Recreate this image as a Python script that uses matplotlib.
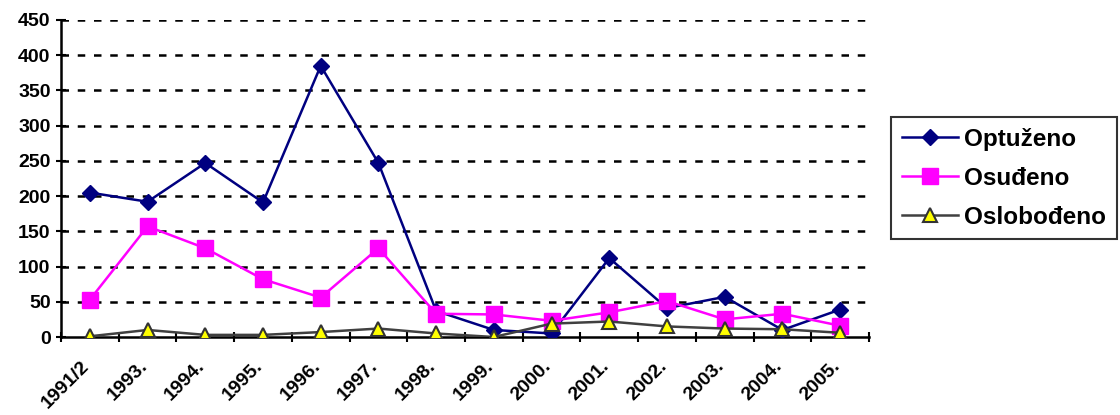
import matplotlib
matplotlib.use('Agg')
import matplotlib.pyplot as plt
import matplotlib.transforms as mtransforms
import numpy as np

years = ['1991/2', '1993.', '1994.', '1995.', '1996.', '1997.', '1998.',
         '1999.', '2000.', '2001.', '2002.', '2003.', '2004.', '2005.']
optuzeno = [205, 192, 247, 191, 385, 247, 37, 10, 5, 112, 41, 57, 10, 39]
osudeno = [53, 157, 126, 82, 56, 126, 33, 32, 23, 35, 51, 25, 33, 16]
oslobodeno = [1, 10, 3, 3, 7, 12, 5, 0, 19, 22, 15, 12, 11, 6]

plt.rcParams['font.family'] = ['Liberation Sans', 'DejaVu Sans']

fig = plt.figure(figsize=(11.2, 4.15), dpi=100)
ax = fig.add_axes([61/1120, 78/415, 808/1120, 317/415])

x = np.arange(len(years))
ax.plot(x, optuzeno, color='#000080', lw=1.8, marker='D', ms=8,
        mfc='#000080', mec='#000080', label='Optuženo', zorder=3)
ax.plot(x, osudeno, color='#FF00FF', lw=1.8, marker='s', ms=11,
        mfc='#FF00FF', mec='#FF00FF', label='Osuđeno', zorder=3)
ax.plot(x, oslobodeno, color='#404040', lw=1.8, marker='^', ms=10,
        mfc='#FFFF00', mec='#333333', mew=1.5, label='Oslobođeno', zorder=3)

ax.set_xlim(-0.5, len(years) - 0.5)
ax.set_ylim(0, 450)
ax.set_yticks(range(0, 451, 50))
ax.set_yticklabels([str(v) for v in range(0, 451, 50)],
                   fontsize=14, fontweight='bold')
ax.tick_params(axis='y', width=1.5, length=7, direction='inout', pad=4)
for v in range(50, 451, 50):
    ax.axhline(v, color='black', lw=1.8, ls=(0, (3, 3.5)), zorder=1)

# ticks between categories, labels at category centres
ax.set_xticks(np.arange(-0.5, len(years), 1))
ax.set_xticklabels([])
ax.set_xticks(x, minor=True)
ax.set_xticklabels(years, minor=True, rotation=45, ha='right',
                   rotation_mode='anchor', fontsize=14, fontweight='bold')
ax.tick_params(axis='x', which='major', width=1.5, length=7, direction='inout')
ax.tick_params(axis='x', which='minor', length=0, pad=15)
shift = mtransforms.ScaledTranslation(-9/100, 0, fig.dpi_scale_trans)
for lab in ax.get_xticklabels(minor=True):
    lab.set_transform(lab.get_transform() + shift)

for s in ['top', 'right']:
    ax.spines[s].set_visible(False)
for s in ['left', 'bottom']:
    ax.spines[s].set_linewidth(1.8)

leg = ax.legend(loc='upper left', bbox_to_anchor=(891/1120, 1 - 117/415),
                bbox_transform=fig.transFigure,
                prop={'size': 17.5, 'weight': 'bold'}, frameon=True,
                fancybox=False, handlelength=2.3, borderpad=0.45,
                labelspacing=0.65, handletextpad=0.25, borderaxespad=0)
leg.get_frame().set_edgecolor('black')
leg.get_frame().set_linewidth(1.5)

fig.savefig('out.png', dpi=100)
